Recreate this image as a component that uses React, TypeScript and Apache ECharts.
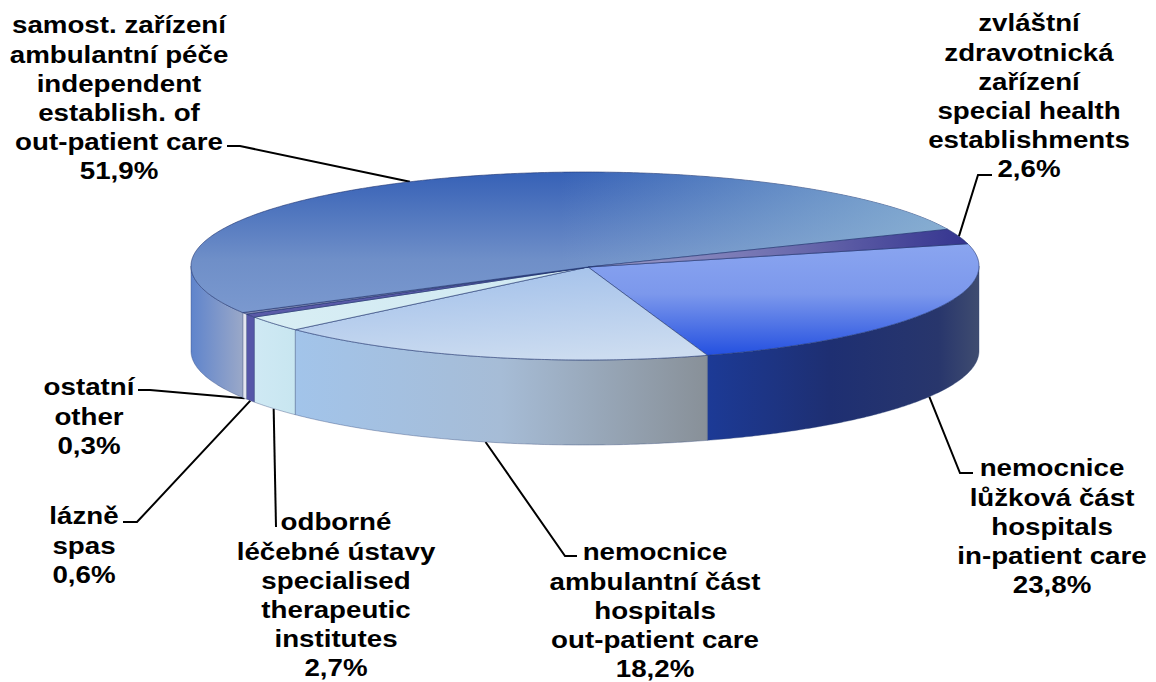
import React, { useEffect, useRef } from "react";
import * as echarts from "echarts";

// Data (clockwise from the right-hand start of the first slice)
const sliceNames = ["in-patient", "out-patient", "therapeutic", "spas", "other", "independent", "special"];
const sliceValues = [23.8, 18.2, 2.7, 0.6, 0.3, 51.9, 2.6];
const sliceLabels = [
  ["nemocnice", "lůžková část", "hospitals", "in-patient care"],
  ["nemocnice", "ambulantní část", "hospitals", "out-patient care"],
  ["odborné", "léčebné ústavy", "specialised", "therapeutic", "institutes"],
  ["lázně", "spas"],
  ["ostatní", "other"],
  ["samost. zařízení", "ambulantní péče", "independent", "establish. of", "out-patient care"],
  ["zvláštní", "zdravotnická", "zařízení", "special health", "establishments"],
];

// Layout
const CX = 585, CY = 266, RX = 394, RY = 94, H = 85;
const APEX = [588, 267];
const START = -13.7;
const FONT = 24, SCALE_X = 1.155, LINE = 29.2;
const labelAnchors = [
  { x: 1052, y: 468 },
  { x: 655, y: 552 },
  { x: 336, y: 522 },
  { x: 84, y: 516 },
  { x: 89, y: 387 },
  { x: 119, y: 25 },
  { x: 1029, y: 23 },
];
// leader elbow points, from the pie edge outward
const elbows: number[][][] = [
  [[960, 473], [973, 473]],
  [[565, 556], [577, 556]],
  [[276, 527]],
  [[137, 522], [123, 522]],
  [[150, 390], [138, 390]],
  [[240, 146], [227, 146]],
  [[978, 175], [992, 175]],
];
const lin = (x: number, y: number, x2: number, y2: number, stops: [number, string][], global = false) => ({
  type: "linear", x, y, x2, y2, global,
  colorStops: stops.map(([offset, color]) => ({ offset, color })),
});
const topFills = [
  lin(0.5, 0, 0.5, 1, [[0, "#8aa5f0"], [0.45, "#7c98ec"], [1, "#2450e0"]]),
  lin(0.3, 0, 0.6, 1, [[0, "#a2c0ea"], [1, "#ccdcf0"]]),
  lin(0, 0, 1, 0, [[0, "#d8eef4"], [1, "#d0e8f2"]]),
  lin(0, 0, 1, 0, [[0, "#5a5aa8"], [1, "#5a5aa8"]]),
  lin(0, 0, 1, 0, [[0, "#8890b8"], [1, "#8890b8"]]),
  lin(0, 170, 0, 320, [[0, "#3560b6"], [0.6, "#6f8fc8"], [1, "#7c9ad0"]], true),
  lin(0, 0, 1, 0, [[0, "#a0a0cc"], [0.5, "#7070b0"], [1, "#34348f"]]),
];
// extra sheen laid over the big slice, lighter towards the right
const topSheen = lin(560, 0, 950, 0, [[0, "rgba(150,190,215,0)"], [1, "rgba(150,190,215,0.75)"]], true);
const SHEEN_SLICE = 5;
const sideFills = [
  lin(0, 0, 1, 0, [[0, "#1c3a96"], [0.45, "#1e2f72"], [0.85, "#28366c"], [1, "#3f4c70"]]),
  lin(0, 0, 1, 0, [[0, "#a2c4ea"], [0.5, "#a6bcd6"], [1, "#889098"]]),
  lin(0, 0, 1, 0, [[0, "#cfe9f4"], [1, "#c8e6f0"]]),
  lin(0, 0, 1, 0, [[0, "#5656a8"], [1, "#5656a8"]]),
  lin(0, 0, 1, 0, [[0, "#e4e6f0"], [1, "#e4e6f0"]]),
  lin(0, 0, 1, 0, [[0, "#5f84cc"], [1, "#9aa8c8"]]),
  lin(0, 0, 1, 0, [[0, "#444"], [1, "#444"]]),
];

const total = sliceValues.reduce((a, b) => a + b, 0);
const angles = (() => {
  const out: [number, number][] = [];
  let a = START;
  for (const v of sliceValues) {
    const next = a + (v / total) * 360;
    out.push([a, next]);
    a = next;
  }
  return out;
})();
const pt = (deg: number, dy = 0): number[] => {
  const r = (deg * Math.PI) / 180;
  return [CX + RX * Math.cos(r), CY + RY * Math.sin(r) + dy];
};
const arc = (a: number, b: number, dy = 0): number[][] => {
  const pts: number[][] = [];
  const n = Math.max(2, Math.ceil(Math.abs(b - a) * 2));
  for (let i = 0; i <= n; i++) pts.push(pt(a + ((b - a) * i) / n, dy));
  return pts;
};

const renderSlice = (params: any) => {
  const i = params.dataIndex;
  const [a, b] = angles[i];
  const children: any[] = [];
  const sa = Math.max(a, 0), sb = Math.min(b, 180);
  if (sb > sa) {
    children.push({
      type: "polygon",
      shape: { points: [...arc(sa, sb), ...arc(sb, sa, H)] },
      style: { fill: sideFills[i], stroke: "rgba(50,70,120,0.55)", lineWidth: 0.7 },
    });
  }
  const topPts = [APEX, ...arc(a, b)];
  children.push({
    type: "polygon",
    shape: { points: topPts },
    style: { fill: topFills[i], stroke: "rgba(30,50,110,0.75)", lineWidth: 0.8 },
  });
  if (i === SHEEN_SLICE) {
    children.push({ type: "polygon", shape: { points: topPts }, style: { fill: topSheen } });
  }
  return { type: "group", children };
};

const buildGraphics = () => {
  const els: any[] = [];
  sliceValues.forEach((v, i) => {
    const [a, b] = angles[i];
    const mid = (a + b) / 2;
    const front = mid > 0 && mid < 180;
    const start = pt(mid, front ? H : 0);
    els.push({
      type: "polyline",
      silent: true,
      shape: { points: [start, ...elbows[i]] },
      style: { stroke: "#000", lineWidth: 2, fill: "none" },
    });
    const lines = [...sliceLabels[i], v.toFixed(1).replace(".", ",") + "%"];
    lines.forEach((t, k) => {
      els.push({
        type: "text",
        x: labelAnchors[i].x,
        y: labelAnchors[i].y + k * LINE,
        scaleX: SCALE_X,
        style: {
          text: t,
          fill: "#000",
          font: `bold ${FONT}px "Liberation Sans", Arial, sans-serif`,
          textAlign: "center",
          textVerticalAlign: "middle",
        },
      });
    });
  });
  return els;
};

export default function App() {
  const ref = useRef<HTMLDivElement>(null);
  useEffect(() => {
    document.body.style.margin = "0";
    const chart = echarts.init(ref.current!, undefined, { renderer: "svg" });
    chart.setOption({
      animation: false,
      backgroundColor: "#fff",
      series: [
        {
          type: "custom",
          coordinateSystem: "none",
          name: "share",
          data: sliceValues.map((v, i) => ({ name: sliceNames[i], value: v })),
          renderItem: renderSlice,
          silent: true,
        },
      ],
      graphic: { elements: buildGraphics() },
    });
    return () => chart.dispose();
  }, []);
  return <div ref={ref} style={{ width: 1156, height: 682, overflow: "hidden" }} />;
}
